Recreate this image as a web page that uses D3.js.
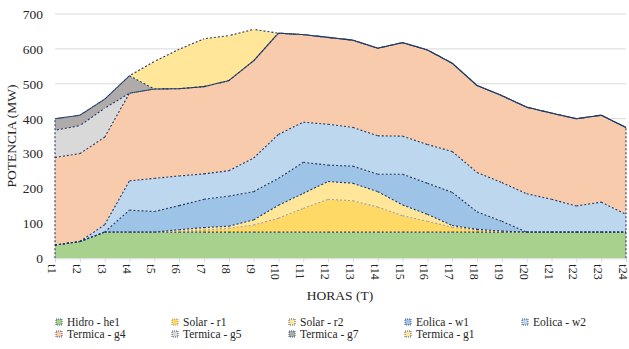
<!DOCTYPE html>
<html>
<head>
<meta charset="utf-8">
<script src="https://cdn.jsdelivr.net/npm/d3@7"></script>
<style>
  html, body { margin: 0; padding: 0; background: #fff; }
  svg { display: block; }
</style>
</head>
<body>
<svg id="chart" width="629" height="349"></svg>
<script>
// Hours of the day
const hours = d3.range(1, 25).map(i => "t" + i);

// Dispatched power per unit (MW), bottom of the stack first
const hidroHe1   = [38, 48, 75, 75, 75, 75, 75, 75, 75, 75, 75, 75, 75, 75, 75, 75, 75, 75, 75, 75, 75, 75, 75, 75];
const solarR1    = [0, 0, 0, 0, 0, 3, 6, 11, 20, 40, 68, 94, 90, 72, 47, 31, 14, 6, 2, 0, 0, 0, 0, 0];
const solarR2    = [0, 0, 0, 0, 0, 4, 7, 6, 15, 37, 43, 51, 50, 44, 31, 20, 5, 2, 1, 0, 0, 0, 0, 0];
const eolicaW1   = [0, 0, 0, 63, 59, 69, 81, 86, 81, 77, 89, 47, 49, 50, 88, 89, 95, 50, 28, 0, 0, 0, 0, 0];
const eolicaW2   = [0, 0, 21, 84, 95, 85, 73, 73, 96, 126, 115, 117, 111, 110, 109, 111, 117, 113, 111, 110, 94, 75, 86, 51];
const termicaG4  = [251, 252, 251, 251, 256, 250, 250, 258, 279, 290, 251, 249, 250, 251, 268, 271, 253, 249, 249, 248, 247, 250, 249, 249];
const termicaG5  = [78, 80, 83, 0, 0, 0, 0, 0, 0, 0, 0, 0, 0, 0, 0, 0, 0, 0, 0, 0, 0, 0, 0, 0];
const termicaG7  = [33, 30, 26, 50, 0, 0, 0, 0, 0, 0, 0, 0, 0, 0, 0, 0, 0, 0, 0, 0, 0, 0, 0, 0];
const termicaG1  = [0, 0, 0, 0, 79, 113, 137, 129, 90, 0, 0, 0, 0, 0, 0, 0, 0, 0, 0, 0, 0, 0, 0, 0];

const yTicks = [0, 100, 200, 300, 400, 500, 600, 700];

const seriesNames  = ["Hidro - he1", "Solar - r1", "Solar - r2", "Eolica - w1", "Eolica - w2",
                      "Termica - g4", "Termica - g5", "Termica - g7", "Termica - g1"];
const seriesValues = [hidroHe1, solarR1, solarR2, eolicaW1, eolicaW2,
                      termicaG4, termicaG5, termicaG7, termicaG1];
const fills = ["#A9D18E", "#FFD966", "#FFE699", "#9DC3E6", "#BDD7EE",
               "#F8CBAD", "#D9D9D9", "#AFABAB", "#FFE699"];
const edgeColors = ["#1F3864", "#A0A0A0", "#1F3864", "#1F3864", "#1F3864",
                    "#1F3864", "#1F3864", "#1F3864", "#1F3864"];
// dash phase per layer: thermal edges are staggered so coincident edges merge into a solid line
const dashOffsets = [0, 0, 0, 0, 0, 0, 2, 0, 2];

const serif = '"Liberation Serif", "Times New Roman", serif';
const textColor = "#262626";

const rows = hours.map((h, i) => {
  const r = { hour: h };
  seriesNames.forEach((n, k) => { r[n] = seriesValues[k][i]; });
  return r;
});

const svg = d3.select("#chart");
const plot = { left: 55, right: 626, top: 14, bottom: 258.3 };

const x = d3.scalePoint().domain(hours).range([plot.left, plot.right]);
const y = d3.scaleLinear().domain([0, 700]).range([plot.bottom, plot.top]);

// horizontal gridlines
svg.append("g")
  .selectAll("line")
  .data(yTicks.filter(v => v > 0))
  .join("line")
  .attr("x1", plot.left).attr("x2", plot.right)
  .attr("y1", d => y(d)).attr("y2", d => y(d))
  .attr("stroke", "#D9D9D9").attr("stroke-width", 1);

const stacked = d3.stack().keys(seriesNames)(rows);

const area = d3.area()
  .x(d => x(d.data.hour))
  .y0(d => y(d[0]))
  .y1(d => y(d[1]));

svg.append("g")
  .selectAll("path")
  .data(stacked)
  .join("path")
  .attr("d", area)
  .attr("fill", (d, i) => fills[i]);

// upper edge of each layer, segment by segment
const seg = d3.line().x(p => p[0]).y(p => p[1]);
const edges = svg.append("g").attr("fill", "none").attr("stroke-width", 1.1);
stacked.forEach((layer, k) => {
  for (let i = 0; i < layer.length - 1; i++) {
    const a = layer[i], b = layer[i + 1];
    edges.append("path")
      .attr("d", seg([[x(a.data.hour), y(a[1])], [x(b.data.hour), y(b[1])]]))
      .attr("stroke", edgeColors[k])
      .attr("stroke-dasharray", "2,2")
      .attr("stroke-dashoffset", dashOffsets[k]);
  }
});

// side edges of the stack
const totals = rows.map(r => d3.sum(seriesNames, n => r[n]));
[0, hours.length - 1].forEach(i => {
  edges.append("line")
    .attr("x1", x(hours[i])).attr("x2", x(hours[i]))
    .attr("y1", y(0)).attr("y2", y(totals[i]))
    .attr("stroke", "#1F3864")
    .attr("stroke-dasharray", "2,2");
});

// x axis
const xAxis = svg.append("g").attr("transform", `translate(0,${plot.bottom})`)
  .call(d3.axisBottom(x).tickSizeOuter(0).tickSize(4).tickPadding(5));
xAxis.select(".domain").attr("stroke", "#D9D9D9");
xAxis.selectAll(".tick line").attr("stroke", "#D9D9D9");
xAxis.selectAll(".tick text")
  .style("font-family", serif)
  .style("font-size", "12px")
  .attr("fill", textColor)
  .attr("transform", "rotate(90)")
  .attr("text-anchor", "start")
  .attr("x", 6).attr("y", 0).attr("dy", "0.62em");

// y axis labels
const yAxis = svg.append("g").attr("transform", `translate(${plot.left},0)`)
  .call(d3.axisLeft(y).tickValues(yTicks).tickSize(0).tickPadding(12));
yAxis.select(".domain").remove();
yAxis.selectAll(".tick text")
  .style("font-family", serif)
  .style("font-size", "13.5px")
  .attr("fill", textColor);

// axis titles
svg.append("text")
  .attr("x", 340).attr("y", 300)
  .attr("text-anchor", "middle")
  .style("font-family", serif).style("font-size", "13.5px")
  .attr("fill", textColor)
  .text("HORAS (T)");

svg.append("text")
  .attr("transform", "translate(16,136) rotate(-90)")
  .attr("text-anchor", "middle")
  .style("font-family", serif).style("font-size", "13.5px")
  .attr("fill", textColor)
  .text("POTENCIA (MW)");

// legend
const legendCols = [59, 175, 292, 408, 525];
const legendRows = [322, 334];
const legend = svg.append("g");
seriesNames.forEach((n, k) => {
  const cx = legendCols[k % 5], cy = legendRows[Math.floor(k / 5)];
  legend.append("rect")
    .attr("x", cx - 3).attr("y", cy - 3)
    .attr("width", 6).attr("height", 6)
    .attr("fill", fills[k])
    .attr("stroke", edgeColors[k] === "#A0A0A0" ? "#8C8C8C" : "#1F3864")
    .attr("stroke-width", 0.8)
    .attr("stroke-dasharray", "1,1");
  legend.append("text")
    .attr("x", cx + 8).attr("y", cy)
    .attr("dy", "0.35em")
    .style("font-family", serif).style("font-size", "11.5px")
    .attr("fill", textColor)
    .text(n);
});
</script>
</body>
</html>
